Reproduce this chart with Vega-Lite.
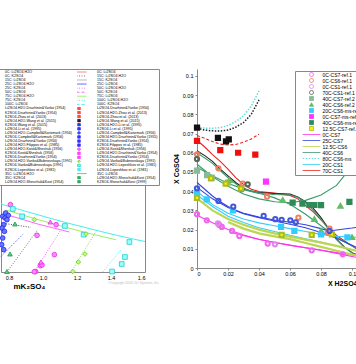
{
"$schema":"https://vega.github.io/schema/vega-lite/v6.json",
"background":"white",
"padding":{"left":-17,"top":68,"right":0,"bottom":0},
"spacing":52,
"bounds":"flush",
"resolve":{"scale":{"color":"independent","shape":"independent","stroke":"independent","fill":"independent","strokeDash":"independent"},"legend":{"color":"independent","shape":"independent","stroke":"independent","fill":"independent","strokeDash":"independent"}},
"config":{"font":"Liberation Sans","axis":{"grid":false,"labelOverlap":false,"labelColor":"#000000","titleColor":"#000000","domainColor":"#888888","tickColor":"#888888"},"legend":{"labelColor":"#000000","labelFont":"Liberation Sans","symbolLimit":100}},
"datasets":{
"ll":[
{"c":"100C: Li2SO4","g":"a","x":0.753,"y":1.36},{"c":"100C: Li2SO4","g":"a","x":0.851,"y":1.26},{"c":"100C: Li2SO4","g":"a","x":0.949,"y":1.165},{"c":"100C: Li2SO4","g":"a","x":1.047,"y":1.07},{"c":"100C: Li2SO4","g":"a","x":1.145,"y":0.98},{"c":"100C: Li2SO4","g":"a","x":1.243,"y":0.895},{"c":"100C: Li2SO4","g":"a","x":1.341,"y":0.81},{"c":"100C: Li2SO4","g":"a","x":1.439,"y":0.73},{"c":"100C: Li2SO4","g":"a","x":1.537,"y":0.655},{"c":"100C: Li2SO4","g":"a","x":1.6,"y":0.61},
{"c":"75C: Li2SO4","g":"a","x":0.782,"y":1.24},{"c":"75C: Li2SO4","g":"a","x":0.949,"y":1.07},{"c":"75C: Li2SO4","g":"a","x":1.106,"y":0.92},{"c":"75C: Li2SO4","g":"a","x":1.263,"y":0.78},{"c":"75C: Li2SO4","g":"a","x":1.429,"y":0.645},
{"c":"50C: Li2SO4","g":"a","x":0.812,"y":1.12},{"c":"50C: Li2SO4","g":"a","x":0.969,"y":0.96},{"c":"50C: Li2SO4","g":"a","x":1.155,"y":0.8},
{"c":"15C: K2SO4","g":"a","x":0.753,"y":0.98},{"c":"15C: K2SO4","g":"a","x":0.929,"y":0.893},
{"c":"25C: Li2SO4.H2O","g":"a","x":0.753,"y":0.313},{"c":"25C: Li2SO4.H2O","g":"a","x":0.88,"y":0.747},
{"c":"35C: Li2SO4.H2O","g":"a","x":0.788,"y":0},{"c":"35C: Li2SO4.H2O","g":"a","x":0.969,"y":0.847},
{"c":"50C: Li2SO4.H2O","g":"a","x":0.949,"y":0},{"c":"50C: Li2SO4.H2O","g":"a","x":1.106,"y":0.847},
{"c":"75C: Li2SO4.H2O","g":"a","x":1.165,"y":0},{"c":"75C: Li2SO4.H2O","g":"a","x":1.312,"y":0.813},
{"c":"100C: Li2SO4.H2O","g":"a","x":1.351,"y":0},{"c":"100C: Li2SO4.H2O","g":"a","x":1.459,"y":0.447}
],
"lp":[
{"s":"Li2SO4-Kosti&Sheshuk (1956)","x":0.808,"y":1.347},{"s":"Li2SO4-Kosti&Sheshuk (1956)","x":0.965,"y":0.733},{"s":"Li2SO4-Kosti&Sheshuk (1956)","x":1.067,"y":0.347},{"s":"Li2SO4-Kosti&Sheshuk (1956)","x":0.984,"y":0.127},{"s":"Li2SO4-Kosti&Sheshuk (1956)","x":0.994,"y":0.14},{"s":"Li2SO4-Kosti&Sheshuk (1956)","x":0.957,"y":0.01},{"s":"Li2SO4-Kosti&Sheshuk (1956)","x":0.949,"y":0.005},{"s":"Li2SO4-Kosti&Sheshuk (1956)","x":1.077,"y":0.947},
{"s":"Li2SO4.H2O-Kosti&Sheshuk (1956)","x":1.043,"y":1.0},{"s":"Li2SO4.H2O-Kosti&Sheshuk (1956)","x":0.988,"y":0.2},
{"s":"Li2SO4.H2O-Lepeshkov et al. (1981)","x":0.822,"y":1.26},{"s":"Li2SO4.H2O-Lepeshkov et al. (1981)","x":0.877,"y":1.113},{"s":"Li2SO4.H2O-Lepeshkov et al. (1981)","x":1.129,"y":0.92},{"s":"Li2SO4.H2O-Lepeshkov et al. (1981)","x":1.239,"y":0.747},{"s":"Li2SO4.H2O-Lepeshkov et al. (1981)","x":1.508,"y":0.6},{"s":"Li2SO4.H2O-Lepeshkov et al. (1981)","x":1.482,"y":0.3},{"s":"Li2SO4.H2O-Lepeshkov et al. (1981)","x":1.463,"y":0.16},{"s":"Li2SO4.H2O-Lepeshkov et al. (1981)","x":1.406,"y":0.01},
{"s":"Li2SO4-Vanko&Bubnovskaya (1991)","x":0.949,"y":1.047},{"s":"Li2SO4-Vanko&Bubnovskaya (1991)","x":1.253,"y":0.76},{"s":"Li2SO4-Vanko&Bubnovskaya (1991)","x":1.247,"y":0.36},{"s":"Li2SO4-Vanko&Bubnovskaya (1991)","x":1.208,"y":0.2},{"s":"Li2SO4-Vanko&Bubnovskaya (1991)","x":1.175,"y":0.01},
{"s":"Li2SO4.H2O-Shevchuk&Kost (1954)","x":0.806,"y":0.36},{"s":"Li2SO4.H2O-Shevchuk&Kost (1954)","x":0.788,"y":0.01},{"s":"Li2SO4.H2O-Shevchuk&Kost (1954)","x":0.835,"y":0.96},
{"s":"Li2SO4-Campbell&Kartzmark (1956)","x":0.763,"y":1.113},{"s":"Li2SO4-Campbell&Kartzmark (1956)","x":0.777,"y":1.08},{"s":"Li2SO4-Campbell&Kartzmark (1956)","x":0.788,"y":1.047},{"s":"Li2SO4-Campbell&Kartzmark (1956)","x":0.769,"y":0.947},{"s":"Li2SO4-Campbell&Kartzmark (1956)","x":0.759,"y":0.88},{"s":"Li2SO4-Campbell&Kartzmark (1956)","x":0.773,"y":0.813},{"s":"Li2SO4-Campbell&Kartzmark (1956)","x":0.763,"y":0.68},{"s":"Li2SO4-Campbell&Kartzmark (1956)","x":0.757,"y":0.547},{"s":"Li2SO4-Campbell&Kartzmark (1956)","x":0.769,"y":0.447},{"s":"Li2SO4-Campbell&Kartzmark (1956)","x":0.78,"y":1.18},{"s":"Li2SO4-Campbell&Kartzmark (1956)","x":0.796,"y":1.133}
],
"rl":[
{"c":"80C-CS6-ms","g":"a","x":0,"y":0.0733},{"c":"80C-CS6-ms","g":"a","x":0.005,"y":0.0728},{"c":"80C-CS6-ms","g":"a","x":0.01,"y":0.0727},{"c":"80C-CS6-ms","g":"a","x":0.015,"y":0.0731},{"c":"80C-CS6-ms","g":"a","x":0.02,"y":0.0742},{"c":"80C-CS6-ms","g":"a","x":0.025,"y":0.0762},{"c":"80C-CS6-ms","g":"a","x":0.03,"y":0.0792},{"c":"80C-CS6-ms","g":"a","x":0.035,"y":0.0843},{"c":"80C-CS6-ms","g":"a","x":0.04,"y":0.0922},
{"c":"80C-CS1-ms","g":"a","x":0,"y":0.0727},{"c":"80C-CS1-ms","g":"a","x":0.005,"y":0.0718},{"c":"80C-CS1-ms","g":"a","x":0.01,"y":0.0714},{"c":"80C-CS1-ms","g":"a","x":0.015,"y":0.0713},{"c":"80C-CS1-ms","g":"a","x":0.02,"y":0.0718},{"c":"80C-CS1-ms","g":"a","x":0.025,"y":0.0733},{"c":"80C-CS1-ms","g":"a","x":0.03,"y":0.0757},{"c":"80C-CS1-ms","g":"a","x":0.035,"y":0.08},{"c":"80C-CS1-ms","g":"a","x":0.04,"y":0.0875},
{"c":"70C-CS6","g":"a","x":0,"y":0.069},{"c":"70C-CS6","g":"a","x":0.005,"y":0.0675},{"c":"70C-CS6","g":"a","x":0.01,"y":0.0658},{"c":"70C-CS6","g":"a","x":0.015,"y":0.0645},{"c":"70C-CS6","g":"a","x":0.02,"y":0.064},{"c":"70C-CS6","g":"a","x":0.025,"y":0.0643},{"c":"70C-CS6","g":"a","x":0.03,"y":0.0655},{"c":"70C-CS6","g":"a","x":0.035,"y":0.0672},{"c":"70C-CS6","g":"a","x":0.04,"y":0.0697},
{"c":"70C-CS1","g":"a","x":0,"y":0.0665},{"c":"70C-CS1","g":"a","x":0.005,"y":0.063},{"c":"70C-CS1","g":"a","x":0.01,"y":0.059},{"c":"70C-CS1","g":"a","x":0.015,"y":0.0555},{"c":"70C-CS1","g":"a","x":0.02,"y":0.0515},{"c":"70C-CS1","g":"a","x":0.025,"y":0.047},{"c":"70C-CS1","g":"a","x":0.03,"y":0.0435},{"c":"70C-CS1","g":"a","x":0.035,"y":0.041},{"c":"70C-CS1","g":"a","x":0.04,"y":0.0398},{"c":"70C-CS1","g":"a","x":0.05,"y":0.039},{"c":"70C-CS1","g":"a","x":0.06,"y":0.0378},{"c":"70C-CS1","g":"a","x":0.065,"y":0.036},{"c":"70C-CS1","g":"a","x":0.07,"y":0.0325},{"c":"70C-CS1","g":"a","x":0.075,"y":0.0292},{"c":"70C-CS1","g":"a","x":0.08,"y":0.025},{"c":"70C-CS1","g":"a","x":0.085,"y":0.0207},{"c":"70C-CS1","g":"a","x":0.09,"y":0.017},{"c":"70C-CS1","g":"a","x":0.095,"y":0.0142},{"c":"70C-CS1","g":"a","x":0.1,"y":0.0115},{"c":"70C-CS1","g":"a","x":0.1032,"y":0.0097},
{"c":"70C-CS1-ms","g":"a","x":0,"y":0.061},{"c":"70C-CS1-ms","g":"a","x":0.005,"y":0.0585},{"c":"70C-CS1-ms","g":"a","x":0.01,"y":0.0555},{"c":"70C-CS1-ms","g":"a","x":0.015,"y":0.0515},{"c":"70C-CS1-ms","g":"a","x":0.02,"y":0.048},{"c":"70C-CS1-ms","g":"a","x":0.025,"y":0.0445},{"c":"70C-CS1-ms","g":"a","x":0.03,"y":0.0415},{"c":"70C-CS1-ms","g":"a","x":0.035,"y":0.04},{"c":"70C-CS1-ms","g":"a","x":0.04,"y":0.0393},{"c":"70C-CS1-ms","g":"a","x":0.05,"y":0.0388},{"c":"70C-CS1-ms","g":"a","x":0.06,"y":0.0385},{"c":"70C-CS1-ms","g":"a","x":0.065,"y":0.037},{"c":"70C-CS1-ms","g":"a","x":0.07,"y":0.0345},{"c":"70C-CS1-ms","g":"a","x":0.075,"y":0.031},{"c":"70C-CS1-ms","g":"a","x":0.08,"y":0.0262},{"c":"70C-CS1-ms","g":"a","x":0.085,"y":0.0203},{"c":"70C-CS1-ms","g":"a","x":0.09,"y":0.015},{"c":"70C-CS1-ms","g":"a","x":0.095,"y":0.011},{"c":"70C-CS1-ms","g":"a","x":0.1,"y":0.008},{"c":"70C-CS1-ms","g":"a","x":0.1032,"y":0.0068},
{"c":"40C-CS6","g":"a","x":0,"y":0.06},{"c":"40C-CS6","g":"a","x":0.01,"y":0.0545},{"c":"40C-CS6","g":"a","x":0.02,"y":0.047},{"c":"40C-CS6","g":"a","x":0.03,"y":0.0408},{"c":"40C-CS6","g":"a","x":0.04,"y":0.0388},{"c":"40C-CS6","g":"a","x":0.05,"y":0.0383},{"c":"40C-CS6","g":"a","x":0.06,"y":0.038},{"c":"40C-CS6","g":"a","x":0.065,"y":0.0368},{"c":"40C-CS6","g":"a","x":0.07,"y":0.034},{"c":"40C-CS6","g":"a","x":0.075,"y":0.03},{"c":"40C-CS6","g":"a","x":0.08,"y":0.0255},{"c":"40C-CS6","g":"a","x":0.085,"y":0.02},{"c":"40C-CS6","g":"a","x":0.09,"y":0.0148},{"c":"40C-CS6","g":"a","x":0.095,"y":0.0108},{"c":"40C-CS6","g":"a","x":0.1,"y":0.0078},{"c":"40C-CS6","g":"a","x":0.1032,"y":0.0066},
{"c":"40C-CS6","g":"b","x":0,"y":0.054},{"c":"40C-CS6","g":"b","x":0.01,"y":0.0475},{"c":"40C-CS6","g":"b","x":0.02,"y":0.0425},{"c":"40C-CS6","g":"b","x":0.03,"y":0.0385},{"c":"40C-CS6","g":"b","x":0.04,"y":0.036},{"c":"40C-CS6","g":"b","x":0.05,"y":0.0345},{"c":"40C-CS6","g":"b","x":0.06,"y":0.034},{"c":"40C-CS6","g":"b","x":0.07,"y":0.0352},{"c":"40C-CS6","g":"b","x":0.08,"y":0.038},{"c":"40C-CS6","g":"b","x":0.09,"y":0.043},{"c":"40C-CS6","g":"b","x":0.097,"y":0.05},{"c":"40C-CS6","g":"b","x":0.1032,"y":0.058},
{"c":"40C-CS6","g":"c","x":0,"y":0.0525},{"c":"40C-CS6","g":"c","x":0.01,"y":0.048},{"c":"40C-CS6","g":"c","x":0.02,"y":0.044},{"c":"40C-CS6","g":"c","x":0.03,"y":0.0412},{"c":"40C-CS6","g":"c","x":0.04,"y":0.039},{"c":"40C-CS6","g":"c","x":0.05,"y":0.0365},{"c":"40C-CS6","g":"c","x":0.06,"y":0.0332},{"c":"40C-CS6","g":"c","x":0.07,"y":0.028},{"c":"40C-CS6","g":"c","x":0.08,"y":0.022},{"c":"40C-CS6","g":"c","x":0.09,"y":0.016},{"c":"40C-CS6","g":"c","x":0.1,"y":0.0115},{"c":"40C-CS6","g":"c","x":0.1032,"y":0.01},
{"c":"25C-CS7","g":"a","x":0,"y":0.0445},{"c":"25C-CS7","g":"a","x":0.005,"y":0.041},{"c":"25C-CS7","g":"a","x":0.01,"y":0.0375},{"c":"25C-CS7","g":"a","x":0.015,"y":0.0345},{"c":"25C-CS7","g":"a","x":0.02,"y":0.032},{"c":"25C-CS7","g":"a","x":0.025,"y":0.03},{"c":"25C-CS7","g":"a","x":0.03,"y":0.0285},{"c":"25C-CS7","g":"a","x":0.04,"y":0.0265},{"c":"25C-CS7","g":"a","x":0.05,"y":0.025},{"c":"25C-CS7","g":"a","x":0.06,"y":0.0238},{"c":"25C-CS7","g":"a","x":0.07,"y":0.0225},{"c":"25C-CS7","g":"a","x":0.08,"y":0.0205},{"c":"25C-CS7","g":"a","x":0.085,"y":0.0193},{"c":"25C-CS7","g":"a","x":0.09,"y":0.0198},{"c":"25C-CS7","g":"a","x":0.095,"y":0.0203},{"c":"25C-CS7","g":"a","x":0.1,"y":0.0208},{"c":"25C-CS7","g":"a","x":0.1032,"y":0.0212},
{"c":"25C-CS7","g":"b","x":0,"y":0.042},{"c":"25C-CS7","g":"b","x":0.01,"y":0.036},{"c":"25C-CS7","g":"b","x":0.02,"y":0.0315},{"c":"25C-CS7","g":"b","x":0.03,"y":0.0283},{"c":"25C-CS7","g":"b","x":0.04,"y":0.0262},{"c":"25C-CS7","g":"b","x":0.05,"y":0.0245},{"c":"25C-CS7","g":"b","x":0.06,"y":0.0228},{"c":"25C-CS7","g":"b","x":0.07,"y":0.021},{"c":"25C-CS7","g":"b","x":0.08,"y":0.0185},{"c":"25C-CS7","g":"b","x":0.09,"y":0.0155},{"c":"25C-CS7","g":"b","x":0.1,"y":0.0118},{"c":"25C-CS7","g":"b","x":0.1032,"y":0.0106},
{"c":"20C-CS1","g":"a","x":0,"y":0.04},{"c":"20C-CS1","g":"a","x":0.01,"y":0.033},{"c":"20C-CS1","g":"a","x":0.02,"y":0.0285},{"c":"20C-CS1","g":"a","x":0.03,"y":0.0255},{"c":"20C-CS1","g":"a","x":0.04,"y":0.0235},{"c":"20C-CS1","g":"a","x":0.05,"y":0.022},{"c":"20C-CS1","g":"a","x":0.06,"y":0.0205},{"c":"20C-CS1","g":"a","x":0.07,"y":0.019},{"c":"20C-CS1","g":"a","x":0.08,"y":0.0175},{"c":"20C-CS1","g":"a","x":0.09,"y":0.0165},{"c":"20C-CS1","g":"a","x":0.1,"y":0.016},{"c":"20C-CS1","g":"a","x":0.1032,"y":0.016},
{"c":"20C-CS1","g":"b","x":0,"y":0.038},{"c":"20C-CS1","g":"b","x":0.01,"y":0.032},{"c":"20C-CS1","g":"b","x":0.02,"y":0.027},{"c":"20C-CS1","g":"b","x":0.03,"y":0.0237},{"c":"20C-CS1","g":"b","x":0.04,"y":0.021},{"c":"20C-CS1","g":"b","x":0.05,"y":0.019},{"c":"20C-CS1","g":"b","x":0.06,"y":0.017},{"c":"20C-CS1","g":"b","x":0.07,"y":0.0152},{"c":"20C-CS1","g":"b","x":0.08,"y":0.0135},{"c":"20C-CS1","g":"b","x":0.09,"y":0.0115},{"c":"20C-CS1","g":"b","x":0.1,"y":0.0095},{"c":"20C-CS1","g":"b","x":0.1032,"y":0.0088},
{"c":"12.5C-CS6","g":"a","x":0,"y":0.0362},{"c":"12.5C-CS6","g":"a","x":0.01,"y":0.03},{"c":"12.5C-CS6","g":"a","x":0.02,"y":0.0255},{"c":"12.5C-CS6","g":"a","x":0.03,"y":0.0225},{"c":"12.5C-CS6","g":"a","x":0.04,"y":0.02},{"c":"12.5C-CS6","g":"a","x":0.05,"y":0.018},{"c":"12.5C-CS6","g":"a","x":0.06,"y":0.0163},{"c":"12.5C-CS6","g":"a","x":0.07,"y":0.0148},{"c":"12.5C-CS6","g":"a","x":0.08,"y":0.0132},{"c":"12.5C-CS6","g":"a","x":0.09,"y":0.0115},{"c":"12.5C-CS6","g":"a","x":0.1,"y":0.0095},{"c":"12.5C-CS6","g":"a","x":0.1032,"y":0.009},
{"c":"12.5C-CS6","g":"b","x":0.02,"y":0.024},{"c":"12.5C-CS6","g":"b","x":0.03,"y":0.0205},{"c":"12.5C-CS6","g":"b","x":0.04,"y":0.018},{"c":"12.5C-CS6","g":"b","x":0.05,"y":0.0165},{"c":"12.5C-CS6","g":"b","x":0.06,"y":0.015},{"c":"12.5C-CS6","g":"b","x":0.07,"y":0.013},{"c":"12.5C-CS6","g":"b","x":0.08,"y":0.011},{"c":"12.5C-CS6","g":"b","x":0.09,"y":0.009},{"c":"12.5C-CS6","g":"b","x":0.1,"y":0.007},{"c":"12.5C-CS6","g":"b","x":0.1032,"y":0.0065},
{"c":"0C-CS7","g":"a","x":0,"y":0.0275},{"c":"0C-CS7","g":"a","x":0.01,"y":0.0235},{"c":"0C-CS7","g":"a","x":0.02,"y":0.02},{"c":"0C-CS7","g":"a","x":0.03,"y":0.0172},{"c":"0C-CS7","g":"a","x":0.04,"y":0.015},{"c":"0C-CS7","g":"a","x":0.05,"y":0.0133},{"c":"0C-CS7","g":"a","x":0.06,"y":0.012},{"c":"0C-CS7","g":"a","x":0.07,"y":0.0105},{"c":"0C-CS7","g":"a","x":0.08,"y":0.0092},{"c":"0C-CS7","g":"a","x":0.09,"y":0.008},{"c":"0C-CS7","g":"a","x":0.1,"y":0.0068},{"c":"0C-CS7","g":"a","x":0.1032,"y":0.0064},
{"c":"0C-CS7","g":"b","x":0.022,"y":0.0185},{"c":"0C-CS7","g":"b","x":0.04,"y":0.0148},{"c":"0C-CS7","g":"b","x":0.06,"y":0.0118},{"c":"0C-CS7","g":"b","x":0.08,"y":0.0093},{"c":"0C-CS7","g":"b","x":0.1,"y":0.006},{"c":"0C-CS7","g":"b","x":0.1032,"y":0.0055}
],
"rp":[
{"s":"0C-CS7-ref.1","x":0,"y":0.028},{"s":"0C-CS7-ref.1","x":0.0063,"y":0.0248},{"s":"0C-CS7-ref.1","x":0.0144,"y":0.0224},{"s":"0C-CS7-ref.1","x":0.016,"y":0.0214},{"s":"0C-CS7-ref.1","x":0.0226,"y":0.0193},{"s":"0C-CS7-ref.1","x":0.0273,"y":0.0167},{"s":"0C-CS7-ref.1","x":0.0456,"y":0.0127},{"s":"0C-CS7-ref.1","x":0.074,"y":0.0092},{"s":"0C-CS7-ref.1","x":0.094,"y":0.0071},
{"s":"0C-CS1-ref.1","x":0.0135,"y":0.0232},{"s":"0C-CS1-ref.1","x":0.0503,"y":0.0123},
{"s":"0C-CS6-ref.1","x":0,"y":0.0592},{"s":"0C-CS6-ref.1","x":0.0138,"y":0.0519},{"s":"0C-CS6-ref.1","x":0.0295,"y":0.0439},{"s":"0C-CS6-ref.1","x":0.0452,"y":0.0371},{"s":"0C-CS6-ref.1","x":0.0654,"y":0.0262},{"s":"0C-CS6-ref.1","x":0.0843,"y":0.0184},{"s":"0C-CS6-ref.1","x":0.0855,"y":0.0205},
{"s":"70C-CS1-ref.1","x":0,"y":0.0567},{"s":"70C-CS1-ref.1","x":0.0288,"y":0.041},{"s":"70C-CS1-ref.1","x":0.0327,"y":0.0436},
{"s":"40C-CS7-ref.2","x":0,"y":0.0507},{"s":"40C-CS7-ref.2","x":0.0065,"y":0.0483},{"s":"40C-CS7-ref.2","x":0.0095,"y":0.047},{"s":"40C-CS7-ref.2","x":0.02,"y":0.0445},
{"s":"40C-CS6-ref.2","x":0.0208,"y":0.0457},{"s":"40C-CS6-ref.2","x":0.0553,"y":0.0354},{"s":"40C-CS6-ref.2","x":0.0757,"y":0.0254},{"s":"40C-CS6-ref.2","x":0.0925,"y":0.0323},{"s":"40C-CS6-ref.2","x":0.08,"y":0.0193},{"s":"40C-CS6-ref.2","x":0.1,"y":0.016},
{"s":"20C-CS6-ms-ref","x":0,"y":0.0396},{"s":"20C-CS6-ms-ref","x":0.0063,"y":0.0357},{"s":"20C-CS6-ms-ref","x":0.0232,"y":0.03},{"s":"20C-CS6-ms-ref","x":0.0542,"y":0.0214},{"s":"20C-CS6-ms-ref","x":0.0628,"y":0.0193},{"s":"20C-CS6-ms-ref","x":0.08,"y":0.0175},{"s":"20C-CS6-ms-ref","x":0.097,"y":0.016},
{"s":"0C-CS7-ms-ref.2","x":0.0445,"y":0.045},
{"s":"40C-CS6-ms-ref","x":0.0617,"y":0.034},{"s":"40C-CS6-ms-ref","x":0.068,"y":0.0335},{"s":"40C-CS6-ms-ref","x":0.0725,"y":0.0328},{"s":"40C-CS6-ms-ref","x":0.0757,"y":0.0328},{"s":"40C-CS6-ms-ref","x":0.08,"y":0.0327},{"s":"40C-CS6-ms-ref","x":0.0983,"y":0.0344},
{"s":"12.5C-CS7-ref.3","x":0,"y":0.0365},{"s":"12.5C-CS7-ref.3","x":0.009,"y":0.0467},{"s":"12.5C-CS7-ref.3","x":0.0185,"y":0.0439},{"s":"12.5C-CS7-ref.3","x":0.0284,"y":0.0413},{"s":"12.5C-CS7-ref.3","x":0.0546,"y":0.0172},{"s":"12.5C-CS7-ref.3","x":0.074,"y":0.0172},{"s":"12.5C-CS7-ref.3","x":0.087,"y":0.0175},
{"s":"25C-CS7-ref.1","x":0,"y":0.0415},{"s":"25C-CS7-ref.1","x":0.0138,"y":0.0349},{"s":"25C-CS7-ref.1","x":0.0234,"y":0.0319},{"s":"25C-CS7-ref.1","x":0.043,"y":0.0271},{"s":"25C-CS7-ref.1","x":0.0505,"y":0.0254},{"s":"25C-CS7-ref.1","x":0.0546,"y":0.025},{"s":"25C-CS7-ref.1","x":0.0602,"y":0.0248},{"s":"25C-CS7-ref.1","x":0.0637,"y":0.0238},{"s":"25C-CS7-ref.1","x":0.0854,"y":0.0193},
{"s":"80C-CS1-ms-ref","x":0,"y":0.0731},{"s":"80C-CS1-ms-ref","x":0.0135,"y":0.0677},{"s":"80C-CS1-ms-ref","x":0.0187,"y":0.0659},{"s":"80C-CS1-ms-ref","x":0.0205,"y":0.0669},
{"s":"70C-CS6-ms-ref","x":0,"y":0.0662},{"s":"70C-CS6-ms-ref","x":0.015,"y":0.0614},{"s":"70C-CS6-ms-ref","x":0.0265,"y":0.06},{"s":"70C-CS6-ms-ref","x":0.0376,"y":0.059}
]
},
"hconcat":[
{
"width":144,"height":203,
"view":{"stroke":"#888888","strokeWidth":1},
"title":{"text":"©Copyright 2003 OLI Systems, Inc.","orient":"bottom","anchor":"end","fontSize":3.3,"color":"#bbbbbb","fontWeight":"normal","offset":-10},
"encoding":{
"x":{"field":"x","type":"quantitative","scale":{"domain":[0.7529,1.6],"nice":false,"zero":false},"axis":{"values":[0.8,1.0,1.2,1.4,1.6],"format":".1f","labelOverlap":false,"labelFontSize":5.5,"ticks":false,"domain":false,"labelPadding":3,"title":"mK₂SO₄","titleFontSize":8,"titleFontWeight":"bold","titleAnchor":"start","titleX":12,"titleAlign":"left","titlePadding":2}},
"y":{"field":"y","type":"quantitative","scale":{"domain":[0,4.06],"nice":false},"axis":null}
},
"layer":[
{
"data":{"values":[]},
"mark":{"type":"point","size":6.25,"opacity":1,"strokeWidth":1},
"encoding":{
"shape":{"field":"s","type":"nominal","scale":{"domain":["0C: Li2SO4.H2O","0C: Li2SO4","0C: K2SO4","15C: Li2SO4.H2O","15C: Li2SO4","15C: K2SO4","25C: Li2SO4.H2O","25C: Li2SO4","25C: K2SO4","50C: Li2SO4.H2O","50C: Li2SO4","50C: K2SO4","75C: Li2SO4.H2O","75C: Li2SO4","75C: K2SO4","100C: Li2SO4.H2O","100C: Li2SO4","100C: K2SO4","Li2SO4.H2O-Druzhinin&Yanko (1954)","Li2SO4-Druzhinin&Yanko (1954) ","K2SO4-Druzhinin&Yanko (1954)","Li2SO4.H2O-Zhou et al. (2013)","K2SO4-Zhou et al. (2013)","Li2SO4-Zhou et al. (2013)","Li2SO4.H2O-Wang et al. (2015)","Li2SO4-Wang et al. (2015)","K2SO4-Wang et al. (2015)","Li2SO4.H2O-Li et al. (1995)","Li2SO4-Li et al. (1995)","K2SO4-Li et al. (1995)","Li2SO4.H2O-Campbell&Kartzmark (1956)","Li2SO4-Campbell&Kartzmark (1956)","K2SO4-Campbell&Kartzmark (1956)","Li2SO4.H2O-Druzhinin&Yanko (1955)","Li2SO4-Druzhinin&Yanko (1954)","K2SO4-Druzhinin&Yanko (1954) ","Li2SO4.H2O-Filippov et al. (1985)","K2SO4-Filippov et al. (1985)","Li2SO4.H2O-Kosti&Sheshuk (1956)","Li2SO4-Kosti&Sheshuk (1956)","K2SO4-Kosti&Sheshuk (1956)","Li2SO4.H2O-Druzhinin&Yanko (1954) ","K2SO4-Druzhinin&Yanko (1954)  ","K2SO4-Druzhinin&Yanko (1954)   ","Li2SO4.H2O-Vanko&Bubnovskaya (1991)","Li2SO4-Vanko&Bubnovskaya (1991)","K2SO4-Vanko&Bubnovskaya (1991)","Li2SO4.H2O-Lepeshkov et al. (1981)","K2SO4-Lepeshkov et al. (1981)","Li2SO4-Lepeshkov et al. (1981)","35C: Li2SO4.H2O","35C: Li2SO4","35C: K2SO4","Li2SO4.H2O-Shevchuk&Kost (1954) ","Li2SO4.H2O-Shevchuk&Kost (1954)","K2SO4-Shevchuk&Kost (1999)"],
"range":["M-6,0H6","M-6,0H6","M-6,0H6","M-6,0H6","M-6,0H6","M-6,0H6","M-6,0H6","M-6,0H6","M-6,0H6","M-6,0H6","M-6,0H6","M-6,0H6","M-6,0H6","M-6,0H6","M-6,0H6","M-6,0H6","M-6,0H6","M-6,0H6","square","square","square","square","square","square","square","square","square","square","square","square","square","circle","square","square","square","square","square","square","triangle-up","circle","square","square","square","square","square","diamond","square","square","square","square","M-6,0H6","M-6,0H6","M-6,0H6","square","triangle-up","square"]},
"legend":{"orient":"none","legendX":-17,"legendY":0,"columns":2,"direction":"horizontal","title":null,"labelFontSize":3.6,"symbolSize":6.25,"symbolStrokeWidth":1,"clipHeight":3.7,"rowPadding":-0.93,"columnPadding":5,"labelOffset":16,"symbolOffset":0,"padding":1,"fillColor":"white","strokeColor":"#888888","labelLimit":200,"symbolLimit":100}},
"stroke":{"field":"s","type":"nominal","scale":{"domain":["0C: Li2SO4.H2O","0C: Li2SO4","0C: K2SO4","15C: Li2SO4.H2O","15C: Li2SO4","15C: K2SO4","25C: Li2SO4.H2O","25C: Li2SO4","25C: K2SO4","50C: Li2SO4.H2O","50C: Li2SO4","50C: K2SO4","75C: Li2SO4.H2O","75C: Li2SO4","75C: K2SO4","100C: Li2SO4.H2O","100C: Li2SO4","100C: K2SO4","Li2SO4.H2O-Druzhinin&Yanko (1954)","Li2SO4-Druzhinin&Yanko (1954) ","K2SO4-Druzhinin&Yanko (1954)","Li2SO4.H2O-Zhou et al. (2013)","K2SO4-Zhou et al. (2013)","Li2SO4-Zhou et al. (2013)","Li2SO4.H2O-Wang et al. (2015)","Li2SO4-Wang et al. (2015)","K2SO4-Wang et al. (2015)","Li2SO4.H2O-Li et al. (1995)","Li2SO4-Li et al. (1995)","K2SO4-Li et al. (1995)","Li2SO4.H2O-Campbell&Kartzmark (1956)","Li2SO4-Campbell&Kartzmark (1956)","K2SO4-Campbell&Kartzmark (1956)","Li2SO4.H2O-Druzhinin&Yanko (1955)","Li2SO4-Druzhinin&Yanko (1954)","K2SO4-Druzhinin&Yanko (1954) ","Li2SO4.H2O-Filippov et al. (1985)","K2SO4-Filippov et al. (1985)","Li2SO4.H2O-Kosti&Sheshuk (1956)","Li2SO4-Kosti&Sheshuk (1956)","K2SO4-Kosti&Sheshuk (1956)","Li2SO4.H2O-Druzhinin&Yanko (1954) ","K2SO4-Druzhinin&Yanko (1954)  ","K2SO4-Druzhinin&Yanko (1954)   ","Li2SO4.H2O-Vanko&Bubnovskaya (1991)","Li2SO4-Vanko&Bubnovskaya (1991)","K2SO4-Vanko&Bubnovskaya (1991)","Li2SO4.H2O-Lepeshkov et al. (1981)","K2SO4-Lepeshkov et al. (1981)","Li2SO4-Lepeshkov et al. (1981)","35C: Li2SO4.H2O","35C: Li2SO4","35C: K2SO4","Li2SO4.H2O-Shevchuk&Kost (1954) ","Li2SO4.H2O-Shevchuk&Kost (1954)","K2SO4-Shevchuk&Kost (1999)"],
"range":["#ff5555","#ff7777","#ff5555","#777777","#777777","#777777","#4444ff","#5555ff","#4444ff","#ff66ff","#ff66ff","#ff66ff","#88dd44","#99ee66","#88dd44","#55eeee","#44eeee","#55eeee","#ff4444","#ff4444","#ff4444","#ff4444","#ff4444","#ff4444","#222222","#222222","#222222","#3333ff","#3333ff","#3333ff","#3333ff","#2222ee","#3333ff","#3333ff","#3333ff","#3333ff","#3333ff","#3333ff","#ee22ee","#ee22ee","#ff44ff","#ff44ff","#ff44ff","#ff44ff","#88ee44","#66cc22","#88ee44","#22cccc","#44eeee","#44eeee","#33aa66","#44bb77","#33aa66","#33aa66","#229955","#33aa66"]}},
"fill":{"field":"s","type":"nominal","scale":{"domain":["0C: Li2SO4.H2O","0C: Li2SO4","0C: K2SO4","15C: Li2SO4.H2O","15C: Li2SO4","15C: K2SO4","25C: Li2SO4.H2O","25C: Li2SO4","25C: K2SO4","50C: Li2SO4.H2O","50C: Li2SO4","50C: K2SO4","75C: Li2SO4.H2O","75C: Li2SO4","75C: K2SO4","100C: Li2SO4.H2O","100C: Li2SO4","100C: K2SO4","Li2SO4.H2O-Druzhinin&Yanko (1954)","Li2SO4-Druzhinin&Yanko (1954) ","K2SO4-Druzhinin&Yanko (1954)","Li2SO4.H2O-Zhou et al. (2013)","K2SO4-Zhou et al. (2013)","Li2SO4-Zhou et al. (2013)","Li2SO4.H2O-Wang et al. (2015)","Li2SO4-Wang et al. (2015)","K2SO4-Wang et al. (2015)","Li2SO4.H2O-Li et al. (1995)","Li2SO4-Li et al. (1995)","K2SO4-Li et al. (1995)","Li2SO4.H2O-Campbell&Kartzmark (1956)","Li2SO4-Campbell&Kartzmark (1956)","K2SO4-Campbell&Kartzmark (1956)","Li2SO4.H2O-Druzhinin&Yanko (1955)","Li2SO4-Druzhinin&Yanko (1954)","K2SO4-Druzhinin&Yanko (1954) ","Li2SO4.H2O-Filippov et al. (1985)","K2SO4-Filippov et al. (1985)","Li2SO4.H2O-Kosti&Sheshuk (1956)","Li2SO4-Kosti&Sheshuk (1956)","K2SO4-Kosti&Sheshuk (1956)","Li2SO4.H2O-Druzhinin&Yanko (1954) ","K2SO4-Druzhinin&Yanko (1954)  ","K2SO4-Druzhinin&Yanko (1954)   ","Li2SO4.H2O-Vanko&Bubnovskaya (1991)","Li2SO4-Vanko&Bubnovskaya (1991)","K2SO4-Vanko&Bubnovskaya (1991)","Li2SO4.H2O-Lepeshkov et al. (1981)","K2SO4-Lepeshkov et al. (1981)","Li2SO4-Lepeshkov et al. (1981)","35C: Li2SO4.H2O","35C: Li2SO4","35C: K2SO4","Li2SO4.H2O-Shevchuk&Kost (1954) ","Li2SO4.H2O-Shevchuk&Kost (1954)","K2SO4-Shevchuk&Kost (1999)"],
"range":["transparent","transparent","transparent","transparent","transparent","transparent","transparent","transparent","transparent","transparent","transparent","transparent","transparent","transparent","transparent","transparent","transparent","transparent","#ff4444","#ff4444","#ff4444","#ff4444","#ff4444","#ff4444","#222222","#222222","#222222","#3333ff","#3333ff","#3333ff","#3333ff","#6677ff","#3333ff","#3333ff","#3333ff","#3333ff","#3333ff","#3333ff","#ff88ff","#ff88ff","#ff44ff","#ff44ff","#ff44ff","#ff44ff","#88ee44","#bbff77","#88ee44","#99ffff","#44eeee","#44eeee","transparent","transparent","transparent","#33aa66","#55cc88","#33aa66"]}},
"strokeDash":{"field":"s","type":"nominal","scale":{"domain":["0C: Li2SO4.H2O","0C: Li2SO4","0C: K2SO4","15C: Li2SO4.H2O","15C: Li2SO4","15C: K2SO4","25C: Li2SO4.H2O","25C: Li2SO4","25C: K2SO4","50C: Li2SO4.H2O","50C: Li2SO4","50C: K2SO4","75C: Li2SO4.H2O","75C: Li2SO4","75C: K2SO4","100C: Li2SO4.H2O","100C: Li2SO4","100C: K2SO4","Li2SO4.H2O-Druzhinin&Yanko (1954)","Li2SO4-Druzhinin&Yanko (1954) ","K2SO4-Druzhinin&Yanko (1954)","Li2SO4.H2O-Zhou et al. (2013)","K2SO4-Zhou et al. (2013)","Li2SO4-Zhou et al. (2013)","Li2SO4.H2O-Wang et al. (2015)","Li2SO4-Wang et al. (2015)","K2SO4-Wang et al. (2015)","Li2SO4.H2O-Li et al. (1995)","Li2SO4-Li et al. (1995)","K2SO4-Li et al. (1995)","Li2SO4.H2O-Campbell&Kartzmark (1956)","Li2SO4-Campbell&Kartzmark (1956)","K2SO4-Campbell&Kartzmark (1956)","Li2SO4.H2O-Druzhinin&Yanko (1955)","Li2SO4-Druzhinin&Yanko (1954)","K2SO4-Druzhinin&Yanko (1954) ","Li2SO4.H2O-Filippov et al. (1985)","K2SO4-Filippov et al. (1985)","Li2SO4.H2O-Kosti&Sheshuk (1956)","Li2SO4-Kosti&Sheshuk (1956)","K2SO4-Kosti&Sheshuk (1956)","Li2SO4.H2O-Druzhinin&Yanko (1954) ","K2SO4-Druzhinin&Yanko (1954)  ","K2SO4-Druzhinin&Yanko (1954)   ","Li2SO4.H2O-Vanko&Bubnovskaya (1991)","Li2SO4-Vanko&Bubnovskaya (1991)","K2SO4-Vanko&Bubnovskaya (1991)","Li2SO4.H2O-Lepeshkov et al. (1981)","K2SO4-Lepeshkov et al. (1981)","Li2SO4-Lepeshkov et al. (1981)","35C: Li2SO4.H2O","35C: Li2SO4","35C: K2SO4","Li2SO4.H2O-Shevchuk&Kost (1954) ","Li2SO4.H2O-Shevchuk&Kost (1954)","K2SO4-Shevchuk&Kost (1999)"],
"range":[[1,1.5],[1,0],[3,2],[1,1.5],[1,0],[1,1],[1,1.5],[1,0],[3,2],[1,1.5],[1,0],[3,2],[1,1.5],[1,0],[3,2],[1,1.5],[1,0],[3,2],[1,0],[1,0],[1,0],[1,0],[1,0],[1,0],[1,0],[1,0],[1,0],[1,0],[1,0],[1,0],[1,0],[1,0],[1,0],[1,0],[1,0],[1,0],[1,0],[1,0],[1,0],[1,0],[1,0],[1,0],[1,0],[1,0],[1,0],[1,0],[1,0],[1,0],[1,0],[1,0],[1,1.5],[1,0],[3,2],[1,0],[1,0],[1,0]]}}
}
},
{
"data":{"name":"ll"},
"transform":[{"filter":{"field":"c","oneOf":["100C: Li2SO4","75C: Li2SO4","50C: Li2SO4"]}}],
"mark":{"type":"line","strokeWidth":1},
"encoding":{
"color":{"field":"c","type":"nominal","legend":null,"scale":{"domain":["100C: Li2SO4","75C: Li2SO4","50C: Li2SO4","15C: K2SO4","25C: Li2SO4.H2O","35C: Li2SO4.H2O","50C: Li2SO4.H2O","75C: Li2SO4.H2O","100C: Li2SO4.H2O"],"range":["#44eeee","#99ee66","#ff66ff","#555555","#4444ff","#33aa66","#ff66ff","#88dd44","#55eeee"]}},
"detail":{"field":"g"}
}
},
{
"data":{"name":"ll"},
"transform":[{"filter":{"field":"c","oneOf":["15C: K2SO4","25C: Li2SO4.H2O","35C: Li2SO4.H2O","50C: Li2SO4.H2O","75C: Li2SO4.H2O","100C: Li2SO4.H2O"]}}],
"mark":{"type":"line","strokeWidth":1,"strokeDash":[1,1.5]},
"encoding":{
"color":{"field":"c","type":"nominal","legend":null,"scale":{"domain":["100C: Li2SO4","75C: Li2SO4","50C: Li2SO4","15C: K2SO4","25C: Li2SO4.H2O","35C: Li2SO4.H2O","50C: Li2SO4.H2O","75C: Li2SO4.H2O","100C: Li2SO4.H2O"],"range":["#44eeee","#99ee66","#ff66ff","#555555","#4444ff","#33aa66","#ff66ff","#88dd44","#55eeee"]}},
"detail":{"field":"g"}
}
},
{
"data":{"name":"lp"},
"mark":{"type":"point","size":22,"opacity":1,"strokeWidth":0.8},
"encoding":{
"shape":{"field":"s","type":"nominal","scale":{"domain":["0C: Li2SO4.H2O","0C: Li2SO4","0C: K2SO4","15C: Li2SO4.H2O","15C: Li2SO4","15C: K2SO4","25C: Li2SO4.H2O","25C: Li2SO4","25C: K2SO4","50C: Li2SO4.H2O","50C: Li2SO4","50C: K2SO4","75C: Li2SO4.H2O","75C: Li2SO4","75C: K2SO4","100C: Li2SO4.H2O","100C: Li2SO4","100C: K2SO4","Li2SO4.H2O-Druzhinin&Yanko (1954)","Li2SO4-Druzhinin&Yanko (1954) ","K2SO4-Druzhinin&Yanko (1954)","Li2SO4.H2O-Zhou et al. (2013)","K2SO4-Zhou et al. (2013)","Li2SO4-Zhou et al. (2013)","Li2SO4.H2O-Wang et al. (2015)","Li2SO4-Wang et al. (2015)","K2SO4-Wang et al. (2015)","Li2SO4.H2O-Li et al. (1995)","Li2SO4-Li et al. (1995)","K2SO4-Li et al. (1995)","Li2SO4.H2O-Campbell&Kartzmark (1956)","Li2SO4-Campbell&Kartzmark (1956)","K2SO4-Campbell&Kartzmark (1956)","Li2SO4.H2O-Druzhinin&Yanko (1955)","Li2SO4-Druzhinin&Yanko (1954)","K2SO4-Druzhinin&Yanko (1954) ","Li2SO4.H2O-Filippov et al. (1985)","K2SO4-Filippov et al. (1985)","Li2SO4.H2O-Kosti&Sheshuk (1956)","Li2SO4-Kosti&Sheshuk (1956)","K2SO4-Kosti&Sheshuk (1956)","Li2SO4.H2O-Druzhinin&Yanko (1954) ","K2SO4-Druzhinin&Yanko (1954)  ","K2SO4-Druzhinin&Yanko (1954)   ","Li2SO4.H2O-Vanko&Bubnovskaya (1991)","Li2SO4-Vanko&Bubnovskaya (1991)","K2SO4-Vanko&Bubnovskaya (1991)","Li2SO4.H2O-Lepeshkov et al. (1981)","K2SO4-Lepeshkov et al. (1981)","Li2SO4-Lepeshkov et al. (1981)","35C: Li2SO4.H2O","35C: Li2SO4","35C: K2SO4","Li2SO4.H2O-Shevchuk&Kost (1954) ","Li2SO4.H2O-Shevchuk&Kost (1954)","K2SO4-Shevchuk&Kost (1999)"],
"range":["M-6,0H6","M-6,0H6","M-6,0H6","M-6,0H6","M-6,0H6","M-6,0H6","M-6,0H6","M-6,0H6","M-6,0H6","M-6,0H6","M-6,0H6","M-6,0H6","M-6,0H6","M-6,0H6","M-6,0H6","M-6,0H6","M-6,0H6","M-6,0H6","square","square","square","square","square","square","square","square","square","square","square","square","square","circle","square","square","square","square","square","square","triangle-up","circle","square","square","square","square","square","diamond","square","square","square","square","M-6,0H6","M-6,0H6","M-6,0H6","square","triangle-up","square"]}},
"stroke":{"field":"s","type":"nominal","scale":{"domain":["0C: Li2SO4.H2O","0C: Li2SO4","0C: K2SO4","15C: Li2SO4.H2O","15C: Li2SO4","15C: K2SO4","25C: Li2SO4.H2O","25C: Li2SO4","25C: K2SO4","50C: Li2SO4.H2O","50C: Li2SO4","50C: K2SO4","75C: Li2SO4.H2O","75C: Li2SO4","75C: K2SO4","100C: Li2SO4.H2O","100C: Li2SO4","100C: K2SO4","Li2SO4.H2O-Druzhinin&Yanko (1954)","Li2SO4-Druzhinin&Yanko (1954) ","K2SO4-Druzhinin&Yanko (1954)","Li2SO4.H2O-Zhou et al. (2013)","K2SO4-Zhou et al. (2013)","Li2SO4-Zhou et al. (2013)","Li2SO4.H2O-Wang et al. (2015)","Li2SO4-Wang et al. (2015)","K2SO4-Wang et al. (2015)","Li2SO4.H2O-Li et al. (1995)","Li2SO4-Li et al. (1995)","K2SO4-Li et al. (1995)","Li2SO4.H2O-Campbell&Kartzmark (1956)","Li2SO4-Campbell&Kartzmark (1956)","K2SO4-Campbell&Kartzmark (1956)","Li2SO4.H2O-Druzhinin&Yanko (1955)","Li2SO4-Druzhinin&Yanko (1954)","K2SO4-Druzhinin&Yanko (1954) ","Li2SO4.H2O-Filippov et al. (1985)","K2SO4-Filippov et al. (1985)","Li2SO4.H2O-Kosti&Sheshuk (1956)","Li2SO4-Kosti&Sheshuk (1956)","K2SO4-Kosti&Sheshuk (1956)","Li2SO4.H2O-Druzhinin&Yanko (1954) ","K2SO4-Druzhinin&Yanko (1954)  ","K2SO4-Druzhinin&Yanko (1954)   ","Li2SO4.H2O-Vanko&Bubnovskaya (1991)","Li2SO4-Vanko&Bubnovskaya (1991)","K2SO4-Vanko&Bubnovskaya (1991)","Li2SO4.H2O-Lepeshkov et al. (1981)","K2SO4-Lepeshkov et al. (1981)","Li2SO4-Lepeshkov et al. (1981)","35C: Li2SO4.H2O","35C: Li2SO4","35C: K2SO4","Li2SO4.H2O-Shevchuk&Kost (1954) ","Li2SO4.H2O-Shevchuk&Kost (1954)","K2SO4-Shevchuk&Kost (1999)"],
"range":["#ff5555","#ff7777","#ff5555","#777777","#777777","#777777","#4444ff","#5555ff","#4444ff","#ff66ff","#ff66ff","#ff66ff","#88dd44","#99ee66","#88dd44","#55eeee","#44eeee","#55eeee","#ff4444","#ff4444","#ff4444","#ff4444","#ff4444","#ff4444","#222222","#222222","#222222","#3333ff","#3333ff","#3333ff","#3333ff","#2222ee","#3333ff","#3333ff","#3333ff","#3333ff","#3333ff","#3333ff","#ee22ee","#ee22ee","#ff44ff","#ff44ff","#ff44ff","#ff44ff","#88ee44","#66cc22","#88ee44","#22cccc","#44eeee","#44eeee","#33aa66","#44bb77","#33aa66","#33aa66","#229955","#33aa66"]}},
"fill":{"field":"s","type":"nominal","scale":{"domain":["0C: Li2SO4.H2O","0C: Li2SO4","0C: K2SO4","15C: Li2SO4.H2O","15C: Li2SO4","15C: K2SO4","25C: Li2SO4.H2O","25C: Li2SO4","25C: K2SO4","50C: Li2SO4.H2O","50C: Li2SO4","50C: K2SO4","75C: Li2SO4.H2O","75C: Li2SO4","75C: K2SO4","100C: Li2SO4.H2O","100C: Li2SO4","100C: K2SO4","Li2SO4.H2O-Druzhinin&Yanko (1954)","Li2SO4-Druzhinin&Yanko (1954) ","K2SO4-Druzhinin&Yanko (1954)","Li2SO4.H2O-Zhou et al. (2013)","K2SO4-Zhou et al. (2013)","Li2SO4-Zhou et al. (2013)","Li2SO4.H2O-Wang et al. (2015)","Li2SO4-Wang et al. (2015)","K2SO4-Wang et al. (2015)","Li2SO4.H2O-Li et al. (1995)","Li2SO4-Li et al. (1995)","K2SO4-Li et al. (1995)","Li2SO4.H2O-Campbell&Kartzmark (1956)","Li2SO4-Campbell&Kartzmark (1956)","K2SO4-Campbell&Kartzmark (1956)","Li2SO4.H2O-Druzhinin&Yanko (1955)","Li2SO4-Druzhinin&Yanko (1954)","K2SO4-Druzhinin&Yanko (1954) ","Li2SO4.H2O-Filippov et al. (1985)","K2SO4-Filippov et al. (1985)","Li2SO4.H2O-Kosti&Sheshuk (1956)","Li2SO4-Kosti&Sheshuk (1956)","K2SO4-Kosti&Sheshuk (1956)","Li2SO4.H2O-Druzhinin&Yanko (1954) ","K2SO4-Druzhinin&Yanko (1954)  ","K2SO4-Druzhinin&Yanko (1954)   ","Li2SO4.H2O-Vanko&Bubnovskaya (1991)","Li2SO4-Vanko&Bubnovskaya (1991)","K2SO4-Vanko&Bubnovskaya (1991)","Li2SO4.H2O-Lepeshkov et al. (1981)","K2SO4-Lepeshkov et al. (1981)","Li2SO4-Lepeshkov et al. (1981)","35C: Li2SO4.H2O","35C: Li2SO4","35C: K2SO4","Li2SO4.H2O-Shevchuk&Kost (1954) ","Li2SO4.H2O-Shevchuk&Kost (1954)","K2SO4-Shevchuk&Kost (1999)"],
"range":["transparent","transparent","transparent","transparent","transparent","transparent","transparent","transparent","transparent","transparent","transparent","transparent","transparent","transparent","transparent","transparent","transparent","transparent","#ff4444","#ff4444","#ff4444","#ff4444","#ff4444","#ff4444","#222222","#222222","#222222","#3333ff","#3333ff","#3333ff","#3333ff","#6677ff","#3333ff","#3333ff","#3333ff","#3333ff","#3333ff","#3333ff","#ff88ff","#ff88ff","#ff44ff","#ff44ff","#ff44ff","#ff44ff","#88ee44","#bbff77","#88ee44","#99ffff","#44eeee","#44eeee","transparent","transparent","transparent","#33aa66","#55cc88","#33aa66"]}}
}
}
]
},
{
"width":160,"height":199,
"view":{"stroke":null},
"encoding":{
"x":{"field":"x","type":"quantitative","scale":{"domain":[0,0.1032],"nice":false,"zero":false},"axis":{"values":[0,0.02,0.04,0.06,0.08,0.1],"format":"~g","labelOverlap":false,"labelFontSize":5.5,"tickSize":2,"labelPadding":1,"title":"X H2SO4","titleFontSize":7,"titleFontWeight":"bold","titleAnchor":"end","titlePadding":3}},
"y":{"field":"y","type":"quantitative","scale":{"domain":[0,0.1036],"nice":false,"zero":false},"axis":{"values":[0,0.01,0.02,0.03,0.04,0.05,0.06,0.07,0.08,0.09,0.1],"format":"~g","labelOverlap":false,"labelFontSize":5.5,"tickSize":2,"labelPadding":2,"title":"X CoSO4","titleFontSize":7,"titleFontWeight":"bold","titlePadding":3}}
},
"layer":[
{
"data":{"values":[]},
"mark":{"type":"point","size":16,"opacity":1,"strokeWidth":1},
"encoding":{
"shape":{"field":"s","type":"nominal","scale":{"domain":["0C-CS7-ref.1","0C-CS6-ref.1","0C-CS1-ref.1","70C-CS1-ref.1","40C-CS7-ref.2","40C-CS6-ref.2","20C-CS6-ms-ref","0C-CS7-ms-ref.2","40C-CS6-ms-ref","12.5C-CS7-ref.3","0C-CS7","25C-CS7","12.5C-CS6","40C-CS6","80C-CS6-ms","20C-CS1","70C-CS1","25C-CS7-ref.1","80C-CS1-ms-ref","70C-CS6-ms-ref"],"range":["circle","circle","circle","circle","square","triangle-up","square","square","square","square","M-4.4,0H4.4","M-4.4,0H4.4","M-4.4,0H4.4","M-4.4,0H4.4","M-4.4,0H4.4","M-4.4,0H4.4","M-4.4,0H4.4","circle","square","square"]},
"legend":{"orient":"none","legendX":98,"legendY":2,"title":null,"values":["0C-CS7-ref.1","0C-CS6-ref.1","0C-CS1-ref.1","70C-CS1-ref.1","40C-CS7-ref.2","40C-CS6-ref.2","20C-CS6-ms-ref","0C-CS7-ms-ref.2","40C-CS6-ms-ref","12.5C-CS7-ref.3","0C-CS7","25C-CS7","12.5C-CS6","40C-CS6","80C-CS6-ms","20C-CS1","70C-CS1"],"labelFontSize":5,"symbolSize":16,"symbolStrokeWidth":1,"clipHeight":5,"rowPadding":-0.67,"padding":1,"symbolOffset":13,"labelOffset":8.5,"fillColor":"white","strokeColor":"#888888","labelLimit":200}},
"stroke":{"field":"s","type":"nominal","scale":{"domain":["0C-CS7-ref.1","0C-CS6-ref.1","0C-CS1-ref.1","70C-CS1-ref.1","40C-CS7-ref.2","40C-CS6-ref.2","20C-CS6-ms-ref","0C-CS7-ms-ref.2","40C-CS6-ms-ref","12.5C-CS7-ref.3","0C-CS7","25C-CS7","12.5C-CS6","40C-CS6","80C-CS6-ms","20C-CS1","70C-CS1","25C-CS7-ref.1","80C-CS1-ms-ref","70C-CS6-ms-ref"],"range":["#ee66ee","#f08060","#dd88ee","#556655","#88bb99","#66bb66","#33ccff","#ff33ff","#2e8b57","#aabb22","#ff33ee","#3344dd","#bcd654","#3a9a6a","#66dddd","#33ccff","#ee2222","#4455dd","#111111","#ee1111"]}},
"fill":{"field":"s","type":"nominal","scale":{"domain":["0C-CS7-ref.1","0C-CS6-ref.1","0C-CS1-ref.1","70C-CS1-ref.1","40C-CS7-ref.2","40C-CS6-ref.2","20C-CS6-ms-ref","0C-CS7-ms-ref.2","40C-CS6-ms-ref","12.5C-CS7-ref.3","0C-CS7","25C-CS7","12.5C-CS6","40C-CS6","80C-CS6-ms","20C-CS1","70C-CS1","25C-CS7-ref.1","80C-CS1-ms-ref","70C-CS6-ms-ref"],"range":["transparent","transparent","transparent","transparent","#88bb99","#66bb66","#33ccff","#ff33ff","#2e8b57","#ffee00","transparent","transparent","transparent","transparent","transparent","transparent","transparent","transparent","#111111","#ee1111"]}},
"strokeDash":{"field":"s","type":"nominal","scale":{"domain":["0C-CS7-ref.1","0C-CS6-ref.1","0C-CS1-ref.1","70C-CS1-ref.1","40C-CS7-ref.2","40C-CS6-ref.2","20C-CS6-ms-ref","0C-CS7-ms-ref.2","40C-CS6-ms-ref","12.5C-CS7-ref.3","0C-CS7","25C-CS7","12.5C-CS6","40C-CS6","80C-CS6-ms","20C-CS1","70C-CS1","25C-CS7-ref.1","80C-CS1-ms-ref","70C-CS6-ms-ref"],"range":[[1,0],[1,0],[1,0],[1,0],[1,0],[1,0],[1,0],[1,0],[1,0],[1,0],[1,0],[1,0],[1,0],[1,0],[1.5,1.5],[1,0],[1,0],[1,0],[1,0],[1,0]]}}
}
},
{
"data":{"name":"rl"},
"transform":[{"filter":{"field":"c","oneOf":["0C-CS7","25C-CS7","40C-CS6","20C-CS1","70C-CS1","70C-CS1-ms"]}}],
"mark":{"type":"line","strokeWidth":1.1},
"encoding":{"color":{"field":"c","type":"nominal","legend":null,"scale":{"domain":["0C-CS7","25C-CS7","12.5C-CS6","40C-CS6","80C-CS6-ms","20C-CS1","70C-CS1","70C-CS1-ms","70C-CS6","80C-CS1-ms"],"range":["#ff33ee","#3344dd","#bcd654","#3a9a6a","#66dddd","#33ccff","#ee2222","#222222","#ee2222","#222222"]}},"detail":{"field":"g"}}
},
{
"data":{"name":"rl"},
"transform":[{"filter":{"field":"c","oneOf":["12.5C-CS6"]}}],
"mark":{"type":"line","strokeWidth":2.2},
"encoding":{"color":{"field":"c","type":"nominal","legend":null,"scale":{"domain":["0C-CS7","25C-CS7","12.5C-CS6","40C-CS6","80C-CS6-ms","20C-CS1","70C-CS1","70C-CS1-ms","70C-CS6","80C-CS1-ms"],"range":["#ff33ee","#3344dd","#bcd654","#3a9a6a","#66dddd","#33ccff","#ee2222","#222222","#ee2222","#222222"]}},"detail":{"field":"g"}}
},
{
"data":{"name":"rl"},
"transform":[{"filter":{"field":"c","oneOf":["80C-CS6-ms","80C-CS1-ms"]}}],
"mark":{"type":"line","strokeWidth":1.5,"strokeDash":[1.5,1.5]},
"encoding":{"color":{"field":"c","type":"nominal","legend":null,"scale":{"domain":["0C-CS7","25C-CS7","12.5C-CS6","40C-CS6","80C-CS6-ms","20C-CS1","70C-CS1","70C-CS1-ms","70C-CS6","80C-CS1-ms"],"range":["#ff33ee","#3344dd","#bcd654","#3a9a6a","#66dddd","#33ccff","#ee2222","#222222","#ee2222","#222222"]}},"detail":{"field":"g"}}
},
{
"data":{"name":"rl"},
"transform":[{"filter":{"field":"c","oneOf":["70C-CS6"]}}],
"mark":{"type":"line","strokeWidth":1.1,"strokeDash":[3,2]},
"encoding":{"color":{"field":"c","type":"nominal","legend":null,"scale":{"domain":["0C-CS7","25C-CS7","12.5C-CS6","40C-CS6","80C-CS6-ms","20C-CS1","70C-CS1","70C-CS1-ms","70C-CS6","80C-CS1-ms"],"range":["#ff33ee","#3344dd","#bcd654","#3a9a6a","#66dddd","#33ccff","#ee2222","#222222","#ee2222","#222222"]}},"detail":{"field":"g"}}
},
{
"data":{"name":"rp"},
"mark":{"type":"point","size":18,"opacity":1},
"encoding":{
"shape":{"field":"s","type":"nominal","scale":{"domain":["0C-CS7-ref.1","0C-CS6-ref.1","0C-CS1-ref.1","70C-CS1-ref.1","40C-CS7-ref.2","40C-CS6-ref.2","20C-CS6-ms-ref","0C-CS7-ms-ref.2","40C-CS6-ms-ref","12.5C-CS7-ref.3","0C-CS7","25C-CS7","12.5C-CS6","40C-CS6","80C-CS6-ms","20C-CS1","70C-CS1","25C-CS7-ref.1","80C-CS1-ms-ref","70C-CS6-ms-ref"],"range":["circle","circle","circle","circle","square","triangle-up","square","square","square","square","M-4.4,0H4.4","M-4.4,0H4.4","M-4.4,0H4.4","M-4.4,0H4.4","M-4.4,0H4.4","M-4.4,0H4.4","M-4.4,0H4.4","circle","square","square"]}},
"stroke":{"field":"s","type":"nominal","scale":{"domain":["0C-CS7-ref.1","0C-CS6-ref.1","0C-CS1-ref.1","70C-CS1-ref.1","40C-CS7-ref.2","40C-CS6-ref.2","20C-CS6-ms-ref","0C-CS7-ms-ref.2","40C-CS6-ms-ref","12.5C-CS7-ref.3","0C-CS7","25C-CS7","12.5C-CS6","40C-CS6","80C-CS6-ms","20C-CS1","70C-CS1","25C-CS7-ref.1","80C-CS1-ms-ref","70C-CS6-ms-ref"],"range":["#ee66ee","#f08060","#dd88ee","#556655","#88bb99","#66bb66","#33ccff","#ff33ff","#2e8b57","#aabb22","#ff33ee","#3344dd","#bcd654","#3a9a6a","#66dddd","#33ccff","#ee2222","#4455dd","#111111","#ee1111"]}},
"fill":{"field":"s","type":"nominal","scale":{"domain":["0C-CS7-ref.1","0C-CS6-ref.1","0C-CS1-ref.1","70C-CS1-ref.1","40C-CS7-ref.2","40C-CS6-ref.2","20C-CS6-ms-ref","0C-CS7-ms-ref.2","40C-CS6-ms-ref","12.5C-CS7-ref.3","0C-CS7","25C-CS7","12.5C-CS6","40C-CS6","80C-CS6-ms","20C-CS1","70C-CS1","25C-CS7-ref.1","80C-CS1-ms-ref","70C-CS6-ms-ref"],"range":["transparent","transparent","transparent","transparent","#88bb99","#66bb66","#33ccff","#ff33ff","#2e8b57","#ffee00","transparent","transparent","transparent","transparent","transparent","transparent","transparent","transparent","#111111","#ee1111"]}}
}
}
]
}
]
}
